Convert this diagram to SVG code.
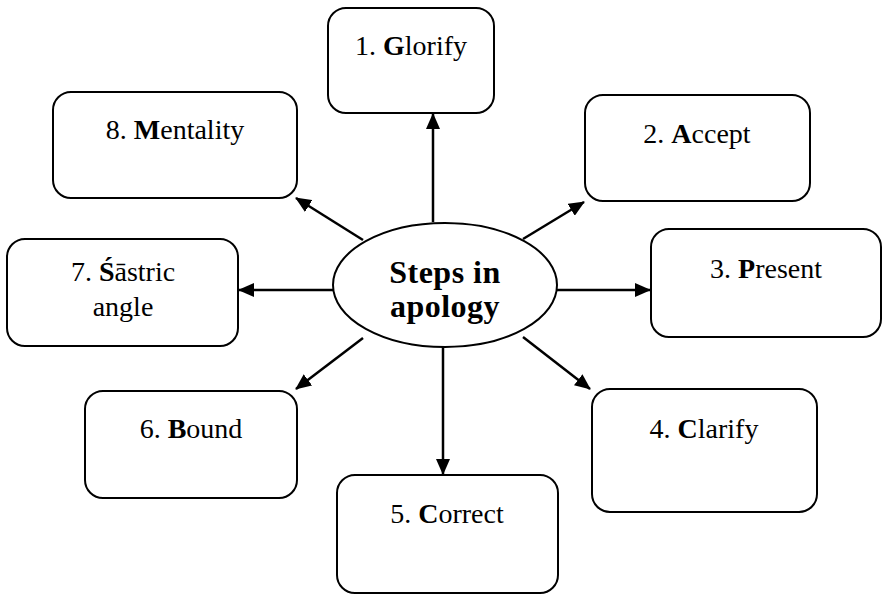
<svg xmlns="http://www.w3.org/2000/svg" width="883" height="594" viewBox="0 0 883 594">
<style>
.box{fill:#fff;stroke:#000;stroke-width:2}
.t{font-size:28px;fill:#000;text-anchor:middle}
.c{font-size:32px;font-weight:bold;fill:#000;text-anchor:middle;letter-spacing:0.5px}
.b{font-weight:bold}
.conn{stroke:#000;stroke-width:2.5;fill:none;marker-end:url(#ah)}
</style>
<defs>
<marker id="ah" markerWidth="16" markerHeight="14" refX="15" refY="7" orient="auto" markerUnits="userSpaceOnUse">
<path d="M0,0 L16,7 L0,14 Z" fill="#000"/>
</marker>
</defs>
<rect width="883" height="594" fill="#fff"/>
<g id="connectors">
<line class="conn" x1="433" y1="222" x2="433" y2="114"/>
<line class="conn" x1="523" y1="239" x2="584" y2="202"/>
<line class="conn" x1="556" y1="290" x2="650" y2="290"/>
<line class="conn" x1="523" y1="337" x2="590" y2="389"/>
<line class="conn" x1="443" y1="347" x2="443" y2="474"/>
<line class="conn" x1="363" y1="338" x2="296" y2="389"/>
<line class="conn" x1="333" y1="290" x2="239" y2="290"/>
<line class="conn" x1="363" y1="240" x2="296" y2="198"/>
</g>
<g font-family="Liberation Serif, Times New Roman, DejaVu Serif, serif">
<g id="center">
<ellipse cx="445" cy="285" rx="112" ry="62" fill="#fff" stroke="#000" stroke-width="2"/>
<text class="c" x="445" y="283">Steps in</text>
<text class="c" x="445" y="317">apology</text>
</g>
<g id="n1"><rect class="box" x="328" y="8" width="166" height="105" rx="18"/><text class="t" x="411" y="55">1. <tspan class="b">G</tspan>lorify</text></g>
<g id="n2"><rect class="box" x="585" y="95" width="225" height="106" rx="18"/><text class="t" x="697" y="143">2. <tspan class="b">A</tspan>ccept</text></g>
<g id="n3"><rect class="box" x="651" y="229" width="230" height="108" rx="18"/><text class="t" x="766" y="278">3. <tspan class="b">P</tspan>resent</text></g>
<g id="n4"><rect class="box" x="592" y="389" width="225" height="123" rx="18"/><text class="t" x="704" y="438">4. <tspan class="b">C</tspan>larify</text></g>
<g id="n5"><rect class="box" x="337" y="475" width="221" height="118" rx="18"/><text class="t" x="447" y="523">5. <tspan class="b">C</tspan>orrect</text></g>
<g id="n6"><rect class="box" x="85" y="391" width="212" height="107" rx="18"/><text class="t" x="191" y="438">6. <tspan class="b">B</tspan>ound</text></g>
<g id="n7"><rect class="box" x="7" y="239" width="231" height="107" rx="18"/><text class="t" x="123" y="281">7. <tspan class="b">Ś</tspan>āstric</text><text class="t" x="123" y="316">angle</text></g>
<g id="n8"><rect class="box" x="53" y="92" width="244" height="106" rx="18"/><text class="t" x="175" y="139">8. <tspan class="b">M</tspan>entality</text></g>
</g>
</svg>
